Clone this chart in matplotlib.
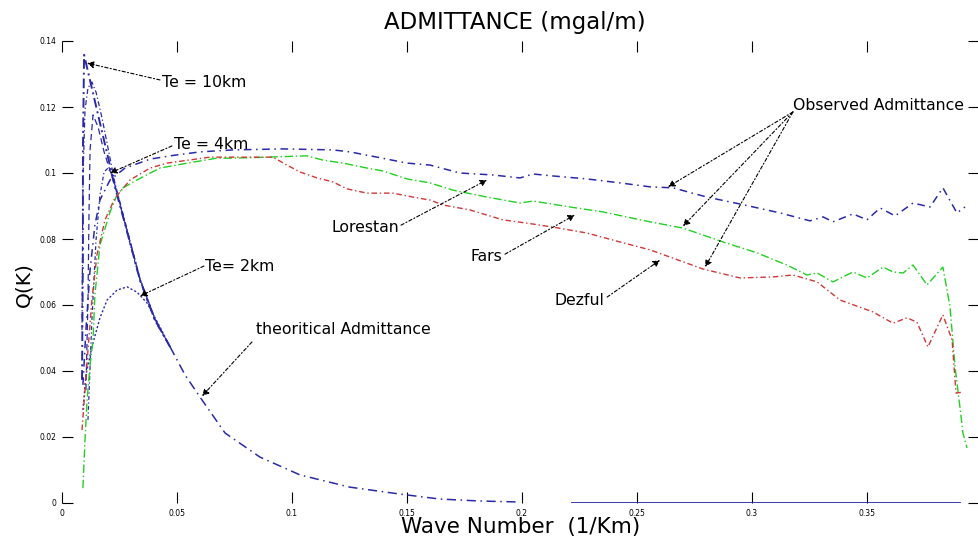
import matplotlib
matplotlib.use("Agg")
import matplotlib.pyplot as plt
import numpy as np

plt.rcParams['font.family'] = ['DejaVu Sans']

# ---------------- data ----------------
# shared tail of the theoretical admittance curves
tail_k = [0.0470, 0.0535, 0.0600, 0.0709, 0.0861, 0.1035, 0.1252, 0.1470, 0.1643, 0.1817, 0.1991, 0.2217, 0.3904]
tail_q = [0.0473, 0.0388, 0.0321, 0.0212, 0.0139, 0.0085, 0.0048, 0.0027, 0.0012, 0.0006, 0.0003, 0.0, 0.0]

# heads of theoretical curves
te10_k = [0.0087, 0.0091, 0.0091, 0.0096, 0.0165, 0.0230, 0.0287, 0.0339, 0.0404]
te10_q = [0.0373, 0.0767, 0.1070, 0.1358, 0.1152, 0.0958, 0.0812, 0.0676, 0.0555]

tb_k = [0.0087, 0.0091, 0.0100, 0.0113, 0.0130, 0.0148, 0.0174, 0.0230, 0.0287, 0.0339, 0.0404]
tb_q = [0.0524, 0.0979, 0.1191, 0.1258, 0.1276, 0.1245, 0.1167, 0.0970, 0.0818, 0.0679, 0.0558]

tc_k = [0.0104, 0.0113, 0.0117, 0.0122, 0.0135, 0.0157, 0.0183, 0.0230, 0.0287, 0.0339, 0.0404]
tc_q = [0.0342, 0.0615, 0.0858, 0.1070, 0.1176, 0.1139, 0.1064, 0.0961, 0.0815, 0.0679, 0.0558]

te4_k = [0.0113, 0.0130, 0.0148, 0.0165, 0.0183, 0.0200, 0.0217, 0.0243, 0.0287, 0.0339, 0.0404]
te4_q = [0.0252, 0.0555, 0.0797, 0.0933, 0.1003, 0.1015, 0.0994, 0.0933, 0.0809, 0.0673, 0.0552]

te2_k = [0.0091, 0.0104, 0.0130, 0.0165, 0.0196, 0.0239, 0.0283, 0.0326, 0.0370, 0.0426]
te2_q = [0.0282, 0.0388, 0.0473, 0.0561, 0.0615, 0.0645, 0.0655, 0.0639, 0.0606, 0.0533]

# observed admittance
lor_k = [0.0091, 0.0104, 0.0122, 0.0143, 0.0165, 0.0209, 0.0274, 0.0383, 0.0470, 0.0600, 0.0743, 0.0961,
         0.1178, 0.1252, 0.1370, 0.1500, 0.1600, 0.1730, 0.1874, 0.1991, 0.2048, 0.2135, 0.2283, 0.2426,
         0.2557, 0.2657, 0.2804, 0.2948, 0.3122, 0.3252, 0.3309, 0.3352, 0.3439, 0.3500, 0.3557, 0.3622,
         0.3700, 0.3774, 0.3830, 0.3891, 0.3926]
lor_q = [0.0358, 0.0524, 0.0706, 0.0842, 0.0918, 0.0979, 0.1015, 0.1042, 0.1052, 0.1064, 0.1070, 0.1073,
         0.1070, 0.1064, 0.1048, 0.1030, 0.1024, 0.1000, 0.0994, 0.0985, 0.0997, 0.0991, 0.0982, 0.0970,
         0.0958, 0.0955, 0.0927, 0.0906, 0.0879, 0.0855, 0.0867, 0.0852, 0.0876, 0.0858, 0.0894, 0.0870,
         0.0909, 0.0897, 0.0955, 0.0879, 0.0897]

fars_k = [0.0091, 0.0100, 0.0109, 0.0122, 0.0135, 0.0143, 0.0165, 0.0209, 0.0239, 0.0265, 0.0326, 0.0426,
          0.0570, 0.0674, 0.0743, 0.0891, 0.1065, 0.1135, 0.1222, 0.1326, 0.1396, 0.1500, 0.1600, 0.1700,
          0.1848, 0.1991, 0.2048, 0.2209, 0.2352, 0.2557, 0.2700, 0.2874, 0.3022, 0.3152, 0.3239, 0.3283,
          0.3352, 0.3439, 0.3500, 0.3570, 0.3613, 0.3657, 0.3700, 0.3761, 0.3830, 0.3861, 0.3883, 0.3904,
          0.3917, 0.3935]
fars_q = [0.0045, 0.0191, 0.0312, 0.0418, 0.0494, 0.0630, 0.0782, 0.0882, 0.0933, 0.0955, 0.0979, 0.1015,
          0.1033, 0.1045, 0.1045, 0.1048, 0.1052, 0.1039, 0.1030, 0.1015, 0.1006, 0.0982, 0.0970, 0.0948,
          0.0927, 0.0909, 0.0915, 0.0897, 0.0882, 0.0852, 0.0833, 0.0791, 0.0758, 0.0721, 0.0691, 0.0697,
          0.0670, 0.0700, 0.0682, 0.0715, 0.0700, 0.0697, 0.0721, 0.0661, 0.0715, 0.0594, 0.0412, 0.0291,
          0.0212, 0.0167]

dez_k = [0.0087, 0.0100, 0.0113, 0.0130, 0.0152, 0.0187, 0.0230, 0.0296, 0.0383, 0.0457, 0.0643, 0.0743,
         0.0917, 0.0978, 0.1035, 0.1109, 0.1178, 0.1239, 0.1326, 0.1439, 0.1526, 0.1600, 0.1657, 0.1774,
         0.1917, 0.2022, 0.2135, 0.2283, 0.2426, 0.2557, 0.2787, 0.2948, 0.3091, 0.3178, 0.3283, 0.3383,
         0.3526, 0.3613, 0.3674, 0.3717, 0.3765, 0.3830, 0.3870, 0.3887, 0.3917]
dez_q = [0.0221, 0.0342, 0.0464, 0.0615, 0.0752, 0.0858, 0.0924, 0.0979, 0.1015, 0.1030, 0.1048, 0.1048,
         0.1048, 0.1024, 0.1003, 0.0985, 0.0973, 0.0952, 0.0939, 0.0939, 0.0927, 0.0918, 0.0903, 0.0888,
         0.0858, 0.0848, 0.0836, 0.0818, 0.0791, 0.0767, 0.0709, 0.0682, 0.0685, 0.0691, 0.0670, 0.0615,
         0.0579, 0.0545, 0.0561, 0.0548, 0.0473, 0.0570, 0.0494, 0.0333, 0.0336]

xticks = [0, 0.05, 0.1, 0.15, 0.2, 0.25, 0.3, 0.35]
xticklabels = ['0', '0.05', '0.1', '0.15', '0.2', '0.25', '0.3', '0.35']
yticks = [0, 0.02, 0.04, 0.06, 0.08, 0.1, 0.12, 0.14]
yticklabels = ['0', '0.02', '0.04', '0.06', '0.08', '0.1', '0.12', '0.14']

# ---------------- figure ----------------
W, H = 979, 545
fig = plt.figure(figsize=(W / 100, H / 100), dpi=100)
ax = fig.add_axes([62 / W, 1 - 503 / H, (W - 62) / W, 462 / H])
ax.set_xlim(0, (W - 62) / 2300)
ax.set_ylim(0, 0.14)

BLUE = '#2a2aa8'
GREEN = '#22d022'
RED = '#d03838'

# theoretical curves
split = tail_k.index(0.2217)
for hk, hq, lw, ls in [(te10_k, te10_q, 1.4, (0, (5, 2, 1, 2))),
                       (tb_k, tb_q, 0.9, (0, (4, 2, 1, 2))),
                       (tc_k, tc_q, 0.9, (0, (5, 3))),
                       (te4_k, te4_q, 0.9, (0, (3, 2, 1, 2))),
                       (te2_k, te2_q, 1.0, (0, (1.5, 1.5)))]:
    ax.plot(hk + tail_k[:1], hq + tail_q[:1], color=BLUE, lw=lw, linestyle=ls)
ax.plot(tail_k[:split], tail_q[:split], color=BLUE, lw=1.1, linestyle=(0, (6, 3, 1, 3)))
ax.plot(tail_k[split:], tail_q[split:], color=BLUE, lw=1.3, linestyle='-')

# observed curves
ax.plot(lor_k, lor_q, color=BLUE, lw=1.1, linestyle=(0, (5, 3, 1, 3)))
ax.plot(fars_k, fars_q, color=GREEN, lw=1.0, linestyle=(0, (6, 2, 1, 2)))
ax.plot(dez_k, dez_q, color=RED, lw=1.0, linestyle=(0, (4, 2, 1, 2)))

# ticks
ax.set_xticks(xticks)
ax.set_xticklabels(xticklabels)
ax.set_yticks(yticks)
ax.set_yticklabels(yticklabels)
ax.tick_params(direction='in', length=8, width=0.8, top=True, right=True,
               labelsize=5.5, pad=4, colors='black')
for s in ax.spines.values():
    s.set_visible(False)

# annotations
arrow = dict(arrowstyle='-|>', linestyle=(0, (3, 2, 1, 2)), lw=0.8, color='black',
             mutation_scale=10, shrinkA=0, shrinkB=0)
fs = 11.3
def note(text, tx, ty, ha='left'):
    ax.text(tx, ty, text, fontsize=fs, ha=ha, va='center', color='black')

def arr(sx, sy, ex, ey):
    ax.annotate('', xy=(ex, ey), xytext=(sx, sy), arrowprops=arrow)

note('Te = 10km', 0.0435, 0.1273)
arr(0.0426, 0.1282, 0.0109, 0.1333)
note('Te = 4km', 0.0487, 0.1085)
arr(0.0478, 0.1082, 0.0209, 0.1000)
note('Te= 2km', 0.0622, 0.0718)
arr(0.0617, 0.0718, 0.0339, 0.0627)
note('theoritical Admittance', 0.0843, 0.0527)
arr(0.0826, 0.0488, 0.0609, 0.0324)
note('Lorestan', 0.1468, 0.0836, ha='right')
arr(0.1474, 0.0842, 0.1848, 0.0979)
note('Fars', 0.1913, 0.0748, ha='right')
arr(0.1926, 0.0754, 0.2230, 0.0873)
note('Dezful', 0.2357, 0.0615, ha='right')
arr(0.2370, 0.0624, 0.2600, 0.0736)
note('Observed Admittance', 0.3178, 0.1206)
arr(0.3178, 0.1185, 0.2635, 0.0958)
arr(0.3178, 0.1185, 0.2700, 0.0839)
arr(0.3178, 0.1185, 0.2796, 0.0715)

fig.text(515 / W, 1 - 22 / H, 'ADMITTANCE (mgal/m)', ha='center', va='center', fontsize=16.5)
fig.text(521 / W, 1 - 527 / H, 'Wave Number  (1/Km)', ha='center', va='center', fontsize=15.5)
fig.text(24 / W, 1 - 285 / H, 'Q(K)', ha='center', va='center', fontsize=14.5, rotation=90)

fig.savefig('out.png', dpi=100)
